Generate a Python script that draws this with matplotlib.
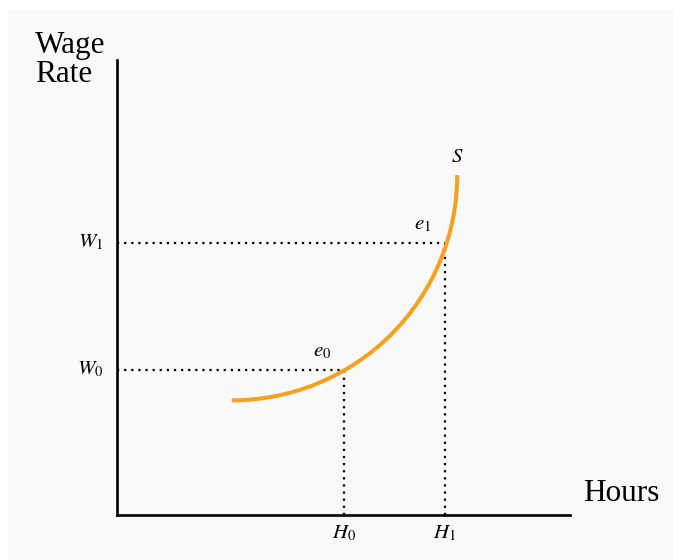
import matplotlib
matplotlib.use("Agg")
import matplotlib.pyplot as plt
from matplotlib.patches import Arc, Rectangle

plt.rcParams["font.family"] = ["Liberation Serif", "DejaVu Serif"]
plt.rcParams["mathtext.fontset"] = "stix"

# Supply curve: quarter of an ellipse (centre, horizontal / vertical radii)
supply_center = (2.54, 7.47)
supply_radii = (4.97, 4.95)

# Equilibrium points (hours, wage)
eq_hours = [5.01, 7.24]
eq_wages = [3.19, 5.98]
eq_labels = ["$e_0$", "$e_1$"]
wage_labels = ["$W_0$", "$W_1$"]
hour_labels = ["$H_0$", "$H_1$"]

ORANGE = "#f5a01f"
BG = "#f9f9f9"

fig = plt.figure(figsize=(6.73, 5.6), dpi=100, facecolor="white")
fig.patches.append(Rectangle((8 / 673, 0), 1, 1 - 10 / 560, transform=fig.transFigure,
                             facecolor=BG, edgecolor="none", zorder=-10))

ax = fig.add_axes([117 / 673, 45 / 560, 453 / 673, 455 / 560])
ax.set_facecolor("none")
ax.set_xlim(0, 10)
ax.set_ylim(0, 10)
for side in ("top", "right"):
    ax.spines[side].set_visible(False)
for side in ("left", "bottom"):
    ax.spines[side].set_linewidth(1.9)
    ax.spines[side].set_color("black")
ax.set_xticks([])
ax.set_yticks([])

# dotted guides
dot = (0, (1, 2.2))
for h, w in zip(eq_hours, eq_wages):
    ax.plot([0, h], [w, w], color="black", lw=1.6, linestyle=dot, zorder=2)
    ax.plot([h, h], [0, w], color="black", lw=1.6, linestyle=dot, zorder=2)

# supply curve
arc = Arc(supply_center, 2 * supply_radii[0], 2 * supply_radii[1],
          theta1=270, theta2=360, color=ORANGE, lw=2.9, zorder=3)
ax.add_patch(arc)

top_x = supply_center[0] + supply_radii[0]
top_y = supply_center[1]
ax.annotate("$S$", (top_x, top_y), xytext=(0, 13), textcoords="offset points",
            ha="center", va="center", fontsize=15)

for h, w, lab in zip(eq_hours, eq_wages, eq_labels):
    ax.annotate(lab, (h, w), xytext=(-16, 13), textcoords="offset points",
                ha="center", va="center", fontsize=15)

for w, lab in zip(eq_wages, wage_labels):
    ax.annotate(lab, (0, w), xytext=(-10, 0), textcoords="offset points",
                ha="right", va="center", fontsize=15, annotation_clip=False)

for h, lab in zip(eq_hours, hour_labels):
    ax.annotate(lab, (h, 0), xytext=(0, -13), textcoords="offset points",
                ha="center", va="center", fontsize=15, annotation_clip=False)

ax.text(10.29, 0.48, "Hours", ha="left", va="center", fontsize=22.5, clip_on=False)
ax.text(-1.81, 10.64, "Wage\nRate", ha="left", va="top", fontsize=22.5,
        linespacing=1.0, clip_on=False)

fig.savefig("out.png", dpi=100, facecolor="white")
